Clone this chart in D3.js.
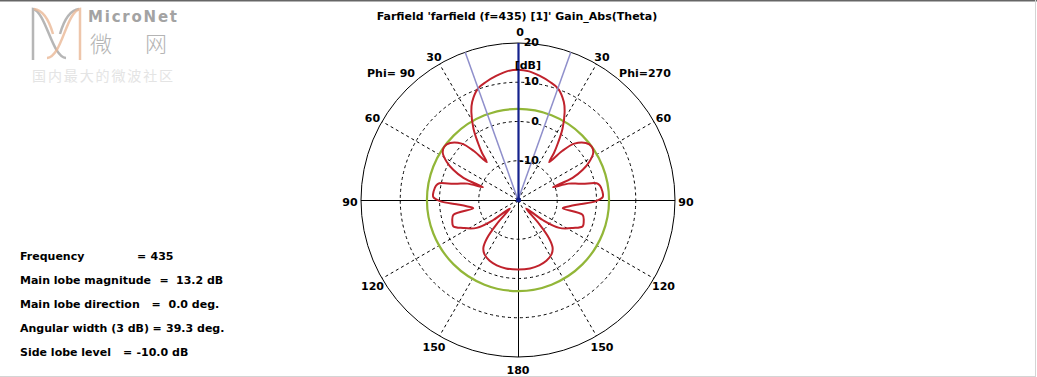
<!DOCTYPE html>
<html>
<head>
<meta charset="utf-8">
<script src="https://cdn.jsdelivr.net/npm/d3@7"></script>
<style>
  body { margin: 0; background: #fff; }
  svg text { font-family: "DejaVu Sans", Verdana, sans-serif; font-weight: bold; font-size: 11px; fill: #000; }
</style>
</head>
<body>
<div id="chart"></div>
<script>
// farfield cut, theta in degrees, gain in dB (same on both phi halves)
const thetaDeg = [0, 5, 10, 15, 19.65, 25, 28, 32, 35, 37.5, 39.5, 42, 45, 50, 54, 58, 62, 65, 68, 70,
  72, 74, 76, 78, 80, 84, 88, 91, 94, 97, 100.5, 103, 108, 112, 117, 124, 129, 136, 138.5, 141,
  144, 148, 155, 162, 170, 180]
const gainDb = [13.2, 12.9, 12.1, 11.2, 10.2, 7.6, 5.3, 1.4, -2.2, -5.0, -7.5, -3.2, 0.3, 2.6, 3.2, 2.6, 0.5, -1.8, -5.0, -10.5,
  -6.5, -4.8, -3.0, 0.5, 1.2, 1.6, 1.6, -0.3, -4.3, -6.8, -8.4, -3.1, -2.4, -2.2, -4.3, -7.3, -11.9, -17, -12, -7.4,
  -5.0, -3.8, -2.9, -2.5, -2.3, -2.3]

// axes
const radialTicks = [20, 10, 0, -10]
const angleTicks = [0, 30, 60, 90, 120, 150, 180]
const phiLabels = ['Phi= 90', 'Phi=270']

// summary
const mainLobeDir = 0.0
const mainLobeMag = 13.2
const angularWidth = 39.3
const sideLobeLevel = -10.0
const infoLabels = ['Frequency', 'Main lobe magnitude', 'Main lobe direction', 'Angular width (3 dB)', 'Side lobe level']
const infoValues = ['435', '13.2 dB', '0.0 deg.', '39.3 deg.', '-10.0 dB']
const title = "Farfield 'farfield (f=435) [1]' Gain_Abs(Theta)"

const width = 1037
const height = 377
const cx = 518
const cy = 200
const R = 157

const svg = d3.select('#chart').append('svg')
  .attr('width', width)
  .attr('height', height)

// window frame
svg.append('rect').attr('x', 0).attr('y', 0).attr('width', width).attr('height', 1.5).attr('fill', '#666')
svg.append('line').attr('x1', 1035.5).attr('x2', 1035.5).attr('y1', 0).attr('y2', 377)
  .attr('stroke', '#d4d4d4')
svg.append('line').attr('x1', 0).attr('x2', 1036).attr('y1', 376.5).attr('y2', 376.5)
  .attr('stroke', '#d4d4d4')

// watermark
let wm = svg.append('g')
wm.append('path').attr('d', 'M33,60 V9 C46,12 52,57 66,58 M60,34 C64,20 70,10 79,9')
  .attr('fill', 'none').attr('stroke', '#9e9e9e').attr('stroke-width', 2.5).attr('opacity', 0.75)
wm.append('path').attr('d', 'M80,60 V9 C66,12 62,57 47,58 M53,34 C49,20 43,10 34,9')
  .attr('fill', 'none').attr('stroke', '#eab896').attr('stroke-width', 2.5).attr('opacity', 0.8)
wm.append('text').attr('x', 88).attr('y', 22).attr('textLength', 89)
  .style('font-size', '15px').style('fill', '#a3a3a3').text('MicroNet')
wm.append('text').attr('x', 90).attr('y', 52)
  .style('font-family', '"Noto Sans CJK SC"').style('font-weight', 300)
  .style('font-size', '22px').style('fill', '#b4b4b4').text('微')
wm.append('text').attr('x', 145).attr('y', 52)
  .style('font-family', '"Noto Sans CJK SC"').style('font-weight', 300)
  .style('font-size', '22px').style('fill', '#b4b4b4').text('网')
wm.append('text').attr('x', 32).attr('y', 81).attr('textLength', 141)
  .style('font-family', '"Noto Sans CJK SC"').style('font-weight', 400)
  .style('font-size', '14px').style('fill', '#e4e4e4').text('国内最大的微波社区')

// title
svg.append('text')
  .attr('x', 517).attr('y', 20)
  .style('text-anchor', 'middle')
  .text(title)

// polar plot
let r = d3.scaleLinear().domain([-20, 20]).range([0, R])
let rad = (deg) => deg * Math.PI / 180
let g = svg.append('g').attr('transform', `translate(${cx},${cy})`)

// dashed rings
g.selectAll('circle.ring')
  .data(radialTicks.slice(1))
  .enter().append('circle')
  .classed('ring', true)
  .attr('r', (d) => r(d))
  .attr('fill', 'none')
  .attr('stroke', '#000')
  .attr('stroke-dasharray', '3,3')

// dashed spokes
let spokes = [30, 60, 120, 150, -30, -60, -120, -150]
g.selectAll('line.spoke')
  .data(spokes)
  .enter().append('line')
  .classed('spoke', true)
  .attr('x1', 0).attr('y1', 0)
  .attr('x2', (d) => R * Math.sin(rad(d)))
  .attr('y2', (d) => -R * Math.cos(rad(d)))
  .attr('stroke', '#000')
  .attr('stroke-dasharray', '3,3')

// solid axes and outer ring
g.append('line').attr('x1', -R).attr('x2', R).attr('y1', 0.5).attr('y2', 0.5).attr('stroke', '#000')
g.append('line').attr('x1', 0.5).attr('x2', 0.5).attr('y1', -R).attr('y2', R).attr('stroke', '#000')
g.append('circle').attr('r', R).attr('fill', 'none').attr('stroke', '#000')

// side lobe level ring
g.append('circle')
  .attr('r', r(mainLobeMag + sideLobeLevel))
  .attr('fill', 'none')
  .attr('stroke', '#92b638')
  .attr('stroke-width', 2.2)

// gain pattern, right half (phi=270) then left half (phi=90)
let pts = thetaDeg.map((t, i) => ({a: rad(t), g: gainDb[i]}))
let left = thetaDeg.slice(1, -1).map((t, i) => ({a: -rad(t), g: gainDb[i + 1]})).reverse()
let line = d3.lineRadial()
  .angle((d) => d.a)
  .radius((d) => r(d.g))
  .curve(d3.curveCatmullRomClosed.alpha(0.5))
g.append('path')
  .datum(pts.concat(left))
  .attr('d', line)
  .attr('fill', 'none')
  .attr('stroke', '#c0222c')
  .attr('stroke-width', 2)

// 3 dB beam width lines
g.selectAll('line.beam')
  .data([mainLobeDir - angularWidth / 2, mainLobeDir + angularWidth / 2])
  .enter().append('line')
  .classed('beam', true)
  .attr('x1', 0).attr('y1', 0)
  .attr('x2', (d) => R * Math.sin(rad(d)))
  .attr('y2', (d) => -R * Math.cos(rad(d)))
  .attr('stroke', '#8f8fcb')
  .attr('stroke-width', 1.5)

// main lobe direction
g.append('line')
  .attr('x1', 0.5).attr('y1', 0)
  .attr('x2', 0.5 + R * Math.sin(rad(mainLobeDir)))
  .attr('y2', -R * Math.cos(rad(mainLobeDir)))
  .attr('stroke', '#14218c')
  .attr('stroke-width', 2.2)
g.append('circle').attr('cx', 0.5).attr('r', 2.5).attr('fill', '#14218c')

// radial labels
g.selectAll('text.rlabel')
  .data(radialTicks)
  .enter().append('text')
  .classed('rlabel', true)
  .attr('x', 21)
  .attr('y', (d) => -r(d) + 3)
  .style('text-anchor', 'end')
  .text((d) => String(d))
g.append('text')
  .attr('x', 23).attr('y', -r(15) + 6)
  .style('text-anchor', 'end')
  .text('[dB]')

// angle labels, both halves
let lab = 168
let angLabels = angleTicks.map((v) => ({ang: v, label: String(v)}))
  .concat(angleTicks.slice(1, -1).map((v) => ({ang: -v, label: String(v)})))
g.selectAll('text.alabel')
  .data(angLabels)
  .enter().append('text')
  .classed('alabel', true)
  .attr('x', (d) => lab * Math.sin(rad(d.ang)) + (d.ang === 0 ? 2 : 0))
  .attr('y', (d) => -lab * Math.cos(rad(d.ang)) + (d.ang === 0 ? 3.5 : 6))
  .style('text-anchor', 'middle')
  .text((d) => d.label)

g.selectAll('text.phi')
  .data(phiLabels)
  .enter().append('text')
  .classed('phi', true)
  .attr('x', (d, i) => (i === 0 ? -1 : 1) * 127)
  .attr('y', -123)
  .style('text-anchor', 'middle')
  .text((d) => d)

// summary text: '=' and value columns as in the reference, pushed right if the label runs long
let eqX = [138, 160.5, 152.5, 148.5, 124]
let valX = [149, 176, 168.5, 161, 136]
let info = svg.append('g')
infoLabels.forEach((t, i) => {
  let y = 260 + i * 24
  let lbl = info.append('text').attr('x', 20).attr('y', y).text(t)
  let end = 20 + lbl.node().getComputedTextLength()
  let ex = Math.max(eqX[i] + 3.5, end + 8)
  info.append('text').attr('x', ex).attr('y', y).style('text-anchor', 'middle').text('=')
  info.append('text').attr('x', Math.max(valX[i], ex + 9)).attr('y', y).text(infoValues[i])
})
</script>
</body>
</html>
